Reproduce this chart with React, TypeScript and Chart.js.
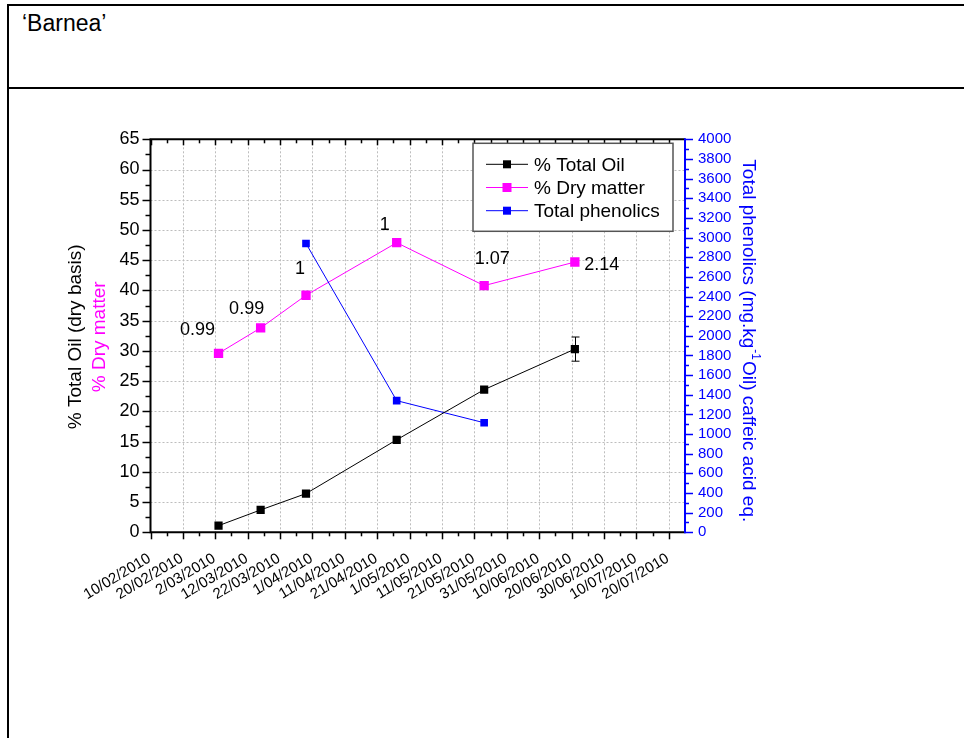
import React, { useEffect, useRef } from 'react';
import { Chart, registerables } from 'chart.js';

Chart.register(...registerables);

const FONT = '"Liberation Sans", Arial, Helvetica, sans-serif';
const BLUE = '#0000ff';
const MAGENTA = '#ff00ff';

// ---------------- data ----------------
const xStartLabel = '10/02/2010';
const xEndLabel = '25/07/2010';
const xTickLabels = [
  '10/02/2010', '20/02/2010', '2/03/2010', '12/03/2010', '22/03/2010', '1/04/2010',
  '11/04/2010', '21/04/2010', '1/05/2010', '11/05/2010', '21/05/2010', '31/05/2010',
  '10/06/2010', '20/06/2010', '30/06/2010', '10/07/2010', '20/07/2010',
];
const sampleDates = ['3/03/2010', '16/03/2010', '30/03/2010', '27/04/2010', '24/05/2010', '21/06/2010'];
const totalOil = [1.1, 3.7, 6.4, 15.3, 23.6, 30.3];
const totalOilError = [0, 0, 0, 0, 0, 2.0];
const dryMatter = [29.6, 33.8, 39.2, 47.9, 40.8, 44.7];
const dryMatterNotes = ['0.99', '0.99', '1', '1', '1.07', '2.14'];
const phenolicDates = ['30/03/2010', '27/04/2010', '24/05/2010'];
const totalPhenolics = [2940, 1340, 1115];
const leftTickValues = [0, 5, 10, 15, 20, 25, 30, 35, 40, 45, 50, 55, 60, 65];
const rightTickValues = [
  0, 200, 400, 600, 800, 1000, 1200, 1400, 1600, 1800, 2000,
  2200, 2400, 2600, 2800, 3000, 3200, 3400, 3600, 3800, 4000,
];
const seriesNames = ['% Total Oil', '% Dry matter', 'Total phenolics'];
const leftTitle = '% Total Oil (dry basis)';
const leftTitle2 = '% Dry matter';
const rightTitleA = 'Total phenolics (mg.kg';
const rightTitleSup = '-1';
const rightTitleB = 'Oil) caffeic acid eq.';

// ---------------- helpers ----------------
function parseDay(s: string): number {
  const [d, m, y] = s.split('/').map(Number);
  return Date.UTC(y, m - 1, d) / 86400000;
}
function dayIndex(s: string): number {
  return parseDay(s) - parseDay(xStartLabel);
}
function seg(ctx: CanvasRenderingContext2D, x1: number, y1: number, x2: number, y2: number) {
  ctx.beginPath();
  ctx.moveTo(x1, y1);
  ctx.lineTo(x2, y2);
  ctx.stroke();
}

// label placement (styling, not data)
const noteOffsets = [[-21, -23], [-14, -19], [-6, -26], [-12, -18], [8, -27], [27, 3]];
const seriesColors = ['#000000', MAGENTA, BLUE];
const legendSquare = [8, 9, 8];

const overlay = {
  id: 'overlay',
  beforeDatasetsDraw(chart: any) {
    const { ctx, chartArea: a } = chart;
    const xs = chart.scales.x;
    const ys = chart.scales.y;
    ctx.save();
    ctx.strokeStyle = '#bdbdbd';
    ctx.lineWidth = 1;
    ctx.setLineDash([2, 2]);
    xTickLabels.forEach((l) => {
      const px = Math.round(xs.getPixelForValue(dayIndex(l))) + 0.5;
      if (px <= a.left + 1.5 || px >= a.right - 1.5) return;
      seg(ctx, px, a.top, px, a.bottom);
    });
    leftTickValues.forEach((v) => {
      const py = Math.round(ys.getPixelForValue(v)) + 0.5;
      if (py <= a.top + 1.5 || py >= a.bottom - 1.5) return;
      seg(ctx, a.left, py, a.right, py);
    });
    ctx.restore();
  },
  afterDatasetsDraw(chart: any) {
    const { ctx, chartArea: a } = chart;
    const xs = chart.scales.x;
    const ys = chart.scales.y;
    const y1 = chart.scales.y1;
    ctx.save();
    ctx.setLineDash([]);

    // error bars
    ctx.strokeStyle = '#000';
    ctx.lineWidth = 1;
    sampleDates.forEach((d, i) => {
      const e = totalOilError[i];
      if (!e) return;
      const px = Math.round(xs.getPixelForValue(dayIndex(d))) + 0.5;
      const t = ys.getPixelForValue(totalOil[i] + e);
      const b = ys.getPixelForValue(totalOil[i] - e);
      seg(ctx, px, t, px, b);
      seg(ctx, px - 4, t, px + 4, t);
      seg(ctx, px - 4, b, px + 4, b);
    });

    // notes on dry matter points
    ctx.fillStyle = '#000';
    ctx.font = `18px ${FONT}`;
    ctx.textAlign = 'center';
    ctx.textBaseline = 'middle';
    sampleDates.forEach((d, i) => {
      const px = xs.getPixelForValue(dayIndex(d));
      const py = ys.getPixelForValue(dryMatter[i]);
      const [dx, dy] = noteOffsets[i];
      ctx.fillText(dryMatterNotes[i], px + dx, py + dy);
    });

    // axes lines
    ctx.lineWidth = 2;
    ctx.strokeStyle = '#000';
    seg(ctx, a.left, a.bottom, a.right, a.bottom);
    seg(ctx, a.left - 1, a.top, a.right, a.top);
    seg(ctx, a.left, a.top, a.left, a.bottom + 1);

    // x ticks
    ctx.lineWidth = 1.5;
    const x0 = dayIndex(xStartLabel);
    const x1 = dayIndex(xEndLabel);
    for (let d = x0; d < x1 - 0.01; d += 5) {
      const px = Math.round(xs.getPixelForValue(d)) + 0.5;
      const major = Math.round(d) % 10 === 0;
      seg(ctx, px, a.bottom, px, a.bottom + (major ? 7 : 4));
      seg(ctx, px, a.top, px, a.top + (major ? 6 : 4));
    }
    // left ticks
    for (let v = 0; v <= 65.001; v += 2.5) {
      const py = Math.round(ys.getPixelForValue(v)) + 0.5;
      const major = Math.abs(v / 5 - Math.round(v / 5)) < 1e-6;
      seg(ctx, a.left - (major ? 8 : 5), py, a.left, py);
    }
    // right axis
    ctx.strokeStyle = BLUE;
    ctx.lineWidth = 2;
    seg(ctx, a.right, a.top - 1, a.right, a.bottom + 1);
    ctx.lineWidth = 1.5;
    for (let v = 0; v <= 4000.001; v += 100) {
      const py = Math.round(y1.getPixelForValue(v)) + 0.5;
      const major = v % 200 === 0;
      seg(ctx, a.right, py, a.right + (major ? 8 : 4), py);
    }

    // x tick labels
    ctx.fillStyle = '#000';
    ctx.font = `15px ${FONT}`;
    ctx.textAlign = 'right';
    ctx.textBaseline = 'middle';
    xTickLabels.forEach((l) => {
      const px = xs.getPixelForValue(dayIndex(l));
      ctx.save();
      ctx.translate(px - 1, a.bottom + 25);
      ctx.rotate(-31 * Math.PI / 180);
      ctx.fillText(l, 0, 0);
      ctx.restore();
    });

    // legend
    const lx = a.right - 212;
    const ly = a.top + 4;
    const lw = 200;
    const lh = 88;
    ctx.fillStyle = '#fff';
    ctx.fillRect(lx, ly, lw, lh);
    ctx.strokeStyle = '#555';
    ctx.lineWidth = 1.5;
    ctx.strokeRect(lx, ly, lw, lh);
    ctx.font = `19px ${FONT}`;
    ctx.textAlign = 'left';
    ctx.textBaseline = 'middle';
    seriesNames.forEach((name, i) => {
      const cy = ly + 21 + i * 23.2;
      ctx.strokeStyle = seriesColors[i];
      ctx.lineWidth = 1;
      seg(ctx, lx + 13, cy, lx + 55, cy);
      ctx.fillStyle = seriesColors[i];
      const s = legendSquare[i];
      ctx.fillRect(lx + 34 - s / 2, cy - s / 2, s, s);
      ctx.fillStyle = '#000';
      ctx.fillText(name, lx + 61, cy + 1);
    });

    // left axis titles
    const cyMid = (a.top + a.bottom) / 2 + 1;
    ctx.save();
    ctx.translate(76, cyMid);
    ctx.rotate(-Math.PI / 2);
    ctx.textAlign = 'center';
    ctx.textBaseline = 'middle';
    ctx.font = `19px ${FONT}`;
    ctx.fillStyle = '#000';
    ctx.fillText(leftTitle, 0, 0);
    ctx.fillStyle = MAGENTA;
    ctx.fillText(leftTitle2, 0, 24);
    ctx.restore();

    // right axis title
    ctx.save();
    ctx.translate(748, cyMid + 4);
    ctx.rotate(Math.PI / 2);
    ctx.fillStyle = BLUE;
    ctx.textAlign = 'left';
    ctx.textBaseline = 'middle';
    ctx.font = `19px ${FONT}`;
    const wA = ctx.measureText(rightTitleA).width;
    const wB = ctx.measureText(rightTitleB).width;
    ctx.font = `12px ${FONT}`;
    const wS = ctx.measureText(rightTitleSup).width + 2;
    const total = wA + wS + wB;
    let cx = -total / 2;
    ctx.font = `19px ${FONT}`;
    ctx.fillText(rightTitleA, cx, 0);
    cx += wA + 1;
    ctx.font = `12px ${FONT}`;
    ctx.fillText(rightTitleSup, cx, -7);
    cx += wS - 1;
    ctx.font = `19px ${FONT}`;
    ctx.fillText(rightTitleB, cx, 0);
    ctx.restore();

    ctx.restore();
  },
};

export default function App() {
  const ref = useRef<HTMLCanvasElement>(null);

  useEffect(() => {
    const canvas = ref.current;
    if (!canvas) return;
    const chart = new Chart(canvas, {
      type: 'line',
      data: {
        datasets: [
          {
            label: seriesNames[0],
            data: sampleDates.map((d, i) => ({ x: dayIndex(d), y: totalOil[i] })),
            borderColor: '#000',
            backgroundColor: '#000',
            borderWidth: 1,
            pointStyle: 'rect',
            pointRadius: 5.8,
            pointBorderWidth: 0,
            tension: 0,
            fill: false,
            yAxisID: 'y',
            order: 0,
          },
          {
            label: seriesNames[1],
            data: sampleDates.map((d, i) => ({ x: dayIndex(d), y: dryMatter[i] })),
            borderColor: MAGENTA,
            backgroundColor: MAGENTA,
            borderWidth: 1,
            pointStyle: 'rect',
            pointRadius: 6.6,
            pointBorderWidth: 0,
            tension: 0,
            fill: false,
            yAxisID: 'y',
            order: 2,
          },
          {
            label: seriesNames[2],
            data: phenolicDates.map((d, i) => ({ x: dayIndex(d), y: totalPhenolics[i] })),
            borderColor: BLUE,
            backgroundColor: BLUE,
            borderWidth: 1,
            pointStyle: 'rect',
            pointRadius: 5.4,
            pointBorderWidth: 0,
            tension: 0,
            fill: false,
            yAxisID: 'y1',
            order: 1,
          },
        ],
      },
      options: {
        animation: false,
        responsive: false,
        maintainAspectRatio: false,
        layout: { padding: { top: 139.3, left: 0, right: 0, bottom: 0 } },
        plugins: { legend: { display: false }, tooltip: { enabled: false } },
        scales: {
          x: {
            type: 'linear',
            position: 'bottom',
            min: dayIndex(xStartLabel),
            max: dayIndex(xEndLabel),
            grid: { display: false, drawTicks: false },
            border: { display: false },
            ticks: { display: false },
            afterBuildTicks: (s: any) => {
              s.ticks = xTickLabels.map((l) => ({ value: dayIndex(l) }));
            },
            afterFit: (s: any) => {
              s.height = 738 - 532.3;
            },
          },
          y: {
            type: 'linear',
            position: 'left',
            min: 0,
            max: 65,
            grid: { display: false, drawTicks: false },
            border: { display: false },
            ticks: {
              color: '#000',
              font: { family: FONT, size: 18 },
              padding: 11,
              autoSkip: false,
              callback: (v: any) => String(v),
            },
            afterBuildTicks: (s: any) => {
              s.ticks = leftTickValues.map((v) => ({ value: v }));
            },
            afterFit: (s: any) => {
              s.width = 150.5;
            },
          },
          y1: {
            type: 'linear',
            position: 'right',
            min: 0,
            max: 4000,
            grid: { display: false, drawTicks: false },
            border: { display: false },
            ticks: {
              color: BLUE,
              font: { family: FONT, size: 15 },
              padding: 13,
              autoSkip: false,
              callback: (v: any) => String(v),
            },
            afterBuildTicks: (s: any) => {
              s.ticks = rightTickValues.map((v) => ({ value: v }));
            },
            afterFit: (s: any) => {
              s.width = 964 - 685;
            },
          },
        },
      },
      plugins: [overlay],
    } as any);
    return () => chart.destroy();
  }, []);

  return (
    <div style={{ position: 'absolute', left: 0, top: 0, width: 964, height: 738, overflow: 'hidden', background: '#fff' }}>
      <div style={{ position: 'absolute', left: 7, top: 4, width: 957, height: 2, background: '#000' }} />
      <div style={{ position: 'absolute', left: 7, top: 4, width: 2, height: 734, background: '#000' }} />
      <div style={{ position: 'absolute', left: 7, top: 87, width: 957, height: 2, background: '#000' }} />
      <div style={{ position: 'absolute', left: 22, top: 10, fontFamily: FONT, fontSize: 23, lineHeight: 'normal', color: '#000', whiteSpace: 'nowrap' }}>
        ‘Barnea’
      </div>
      <canvas ref={ref} width={964} height={738} style={{ position: 'absolute', left: 0, top: 0, width: 964, height: 738 }} />
    </div>
  );
}
